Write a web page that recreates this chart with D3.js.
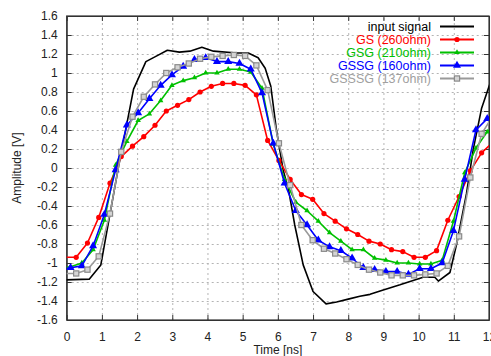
<!DOCTYPE html>
<html>
<head>
<meta charset="utf-8">
<script src="https://cdn.jsdelivr.net/npm/d3@7"></script>
<style>
    body { margin: 0; background: #fff; }
    svg { display: block; font-family: "Liberation Sans", Arial, sans-serif; }
    .grid line { stroke: #b4b4b4; stroke-dasharray: 2, 3; stroke-width: 1; }
    .grid path { display: none; }
    .axis path, .axis line { stroke: #333; }
    .axis text { font-size: 12px; fill: #222; }
</style>
</head>
<body>
<svg id="chart" width="491" height="356"></svg>
<script>
// sample times (ns): red/gray were sampled on one grid, green/blue on another, shifted by half a step
var tA = [-0.05, 0.27, 0.59, 0.91, 1.23, 1.55, 1.87, 2.19, 2.51, 2.83, 3.15, 3.47, 3.79, 4.11, 4.43, 4.75,
    5.07, 5.39, 5.71, 6.03, 6.35, 6.67, 6.99, 7.31, 7.63, 7.95, 8.27, 8.59, 8.91, 9.23, 9.55, 9.87,
    10.19, 10.51, 10.83, 11.15, 11.47, 11.79, 12.11];
var tB = [-0.21, 0.11, 0.43, 0.75, 1.07, 1.39, 1.71, 2.03, 2.35, 2.67, 2.99, 3.31, 3.63, 3.95, 4.27, 4.59,
    4.91, 5.23, 5.55, 5.87, 6.19, 6.51, 6.83, 7.15, 7.47, 7.79, 8.11, 8.43, 8.75, 9.07, 9.39, 9.71,
    10.03, 10.35, 10.67, 10.99, 11.31, 11.63, 11.95, 12.27];

// input signal (no markers)
var inputT = [-0.2, 0.64, 0.97, 1.47, 1.90, 2.25, 2.56, 2.86, 3.20, 3.50, 3.84, 4.17, 4.50, 4.83, 5.16,
    5.44, 5.64, 5.80, 5.96, 6.15, 6.30, 6.48, 6.72, 7.00, 7.37, 7.67, 8.00, 8.33, 8.62, 8.95, 9.20,
    9.47, 9.80, 10.13, 10.46, 10.56, 10.89, 11.08, 11.36, 11.55, 11.79, 12.03, 12.20];
var inputV = [-1.18, -1.17, -1.02, 0.01, 0.83, 1.12, 1.18, 1.24, 1.22, 1.23, 1.27, 1.23, 1.22, 1.21, 1.21,
    1.16, 1.05, 0.86, 0.40, -0.02, -0.22, -0.60, -1.02, -1.30, -1.43, -1.41, -1.38, -1.35, -1.33, -1.29, -1.26,
    -1.23, -1.19, -1.15, -1.15, -1.19, -1.10, -0.80, -0.27, 0.19, 0.63, 0.89, 1.00];

var gs = [-0.94, -0.94, -0.79, -0.52, -0.16, 0.12, 0.23, 0.33, 0.45, 0.60, 0.66, 0.72, 0.80, 0.86, 0.89, 0.89,
    0.87, 0.77, 0.29, 0.08, -0.12, -0.28, -0.33, -0.48, -0.56, -0.64, -0.70, -0.77, -0.80, -0.86, -0.88, -0.94,
    -0.94, -0.87, -0.55, -0.30, -0.03, 0.16, 0.27];
var gsg = [-1.05, -1.04, -1.00, -0.86, -0.55, 0.03, 0.28, 0.50, 0.57, 0.71, 0.87, 0.92, 0.95, 1.00, 1.00, 1.04,
    1.04, 1.01, 0.84, 0.25, -0.12, -0.36, -0.45, -0.56, -0.68, -0.77, -0.86, -0.86, -0.95, -0.97, -1.00, -1.00,
    -1.01, -1.01, -0.97, -0.56, -0.05, 0.21, 0.38, 0.48];
var gssg = [-1.07, -1.05, -1.03, -0.82, -0.49, -0.02, 0.45, 0.58, 0.73, 0.87, 0.98, 1.07, 1.14, 1.16, 1.12, 1.12,
    1.10, 1.04, 0.79, 0.26, -0.16, -0.45, -0.60, -0.76, -0.83, -0.87, -0.95, -1.05, -1.07, -1.09, -1.09, -1.12,
    -1.06, -1.06, -1.00, -0.66, -0.12, 0.40, 0.52, 0.62];
var gsssg = [-1.11, -1.11, -1.07, -0.93, -0.48, 0.17, 0.54, 0.75, 0.88, 1.00, 1.06, 1.10, 1.15, 1.17, 1.18, 1.19,
    1.18, 1.08, 0.82, 0.26, -0.18, -0.60, -0.76, -0.85, -0.90, -0.96, -1.02, -1.07, -1.10, -1.13, -1.13, -1.13,
    -1.12, -1.11, -1.03, -0.72, -0.10, 0.36, 0.55];

var xTicks = [0, 1, 2, 3, 4, 5, 6, 7, 8, 9, 10, 11, 12];
var yTicks = [-1.6, -1.4, -1.2, -1, -0.8, -0.6, -0.4, -0.2, 0, 0.2, 0.4, 0.6, 0.8, 1, 1.2, 1.4, 1.6];

var series = [
    {name: "input signal", t: inputT, v: inputV, color: "#000000", marker: null},
    {name: "GS (260ohm)", t: tA, v: gs, color: "#ff0000", marker: "circle"},
    {name: "GSG (210ohm)", t: tB, v: gsg, color: "#00c000", marker: "smallTriangle"},
    {name: "GSSG (160ohm)", t: tB, v: gssg, color: "#0000ff", marker: "triangle"},
    {name: "GSSSG (137ohm)", t: tA, v: gsssg, color: "#9a9a9a", marker: "square"}
];

var margin = {top: 16, right: 2, bottom: 36, left: 66.7};
var width = 491 - margin.left - margin.right;
var height = 356 - margin.top - margin.bottom;

var svg = d3.select("#chart");
var g = svg.append("g").attr("transform", "translate(" + margin.left + "," + margin.top + ")");

var x = d3.scaleLinear().domain([0, 12]).range([0, width]);
var y = d3.scaleLinear().domain([-1.6, 1.6]).range([height, 0]);

// dashed grid
g.append("g").attr("class", "grid")
    .attr("transform", "translate(0," + height + ")")
    .call(d3.axisBottom(x).tickValues(xTicks.slice(1, -1)).tickSize(-height).tickFormat(""));
g.append("g").attr("class", "grid")
    .call(d3.axisLeft(y).tickValues(yTicks.slice(1, -1)).tickSize(-width).tickFormat(""));

var fmt = function (d) { return String(+d.toFixed(1)); };

// gnuplot style: ticks pointing inwards, mirrored on top/right
g.append("g").attr("class", "axis")
    .attr("transform", "translate(0," + height + ")")
    .call(d3.axisBottom(x).tickValues(xTicks).tickSizeInner(-5).tickSizeOuter(0).tickPadding(12).tickFormat(fmt));
g.append("g").attr("class", "axis")
    .call(d3.axisLeft(y).tickValues(yTicks).tickSizeInner(-5).tickSizeOuter(0).tickPadding(9).tickFormat(fmt));
g.append("g").attr("class", "axis")
    .call(d3.axisTop(x).tickValues(xTicks).tickSizeInner(-5).tickSizeOuter(0).tickFormat(""));
g.append("g").attr("class", "axis")
    .attr("transform", "translate(" + width + ",0)")
    .call(d3.axisRight(y).tickValues(yTicks).tickSizeInner(-5).tickSizeOuter(0).tickFormat(""));

g.append("rect")
    .attr("width", width).attr("height", height)
    .attr("fill", "none").attr("stroke", "#333").attr("stroke-width", 1.2);

svg.append("text")
    .attr("x", margin.left + width / 2).attr("y", 354)
    .attr("text-anchor", "middle").attr("font-size", "12px").attr("fill", "#222")
    .text("Time [ns]");
svg.append("text")
    .attr("transform", "translate(21," + (margin.top + height / 2) + ") rotate(-90)")
    .attr("text-anchor", "middle").attr("font-size", "12px").attr("fill", "#222")
    .text("Amplitude [V]");

g.append("clipPath").attr("id", "plotClip")
    .append("rect").attr("width", width).attr("height", height);

var line = d3.line()
    .x(function (d) { return x(d[0]); })
    .y(function (d) { return y(d[1]); });

function drawMarker(sel, kind, color) {
    if (kind === "circle") {
        sel.append("circle").attr("r", 2.6).attr("fill", color);
    } else if (kind === "smallTriangle") {
        sel.append("path").attr("d", d3.symbol(d3.symbolTriangle, 13)()).attr("fill", color);
    } else if (kind === "triangle") {
        sel.append("path").attr("d", d3.symbol(d3.symbolTriangle, 28)()).attr("fill", color);
    } else if (kind === "square") {
        sel.append("rect").attr("x", -2.6).attr("y", -2.6).attr("width", 5.2).attr("height", 5.2)
            .attr("fill", "#d4d4d4").attr("stroke", "#8a8a8a").attr("stroke-width", 1.2);
    }
}

var plot = g.append("g").attr("clip-path", "url(#plotClip)");

series.forEach(function (s) {
    var pts = s.t.map(function (t, i) { return [t, s.v[i]]; });
    plot.append("path")
        .datum(pts)
        .attr("fill", "none")
        .attr("stroke", s.color)
        .attr("stroke-width", 1.6)
        .attr("stroke-linejoin", "round")
        .attr("d", line);
    if (s.marker) {
        plot.selectAll(null)
            .data(pts.filter(function (p) { return p[0] >= 0 && p[0] <= 12; }))
            .enter().append("g")
            .attr("transform", function (d) { return "translate(" + x(d[0]) + "," + y(d[1]) + ")"; })
            .each(function () { drawMarker(d3.select(this), s.marker, s.color); });
    }
});

// legend
var legend = svg.append("g").attr("transform", "translate(431,26.5)");
series.forEach(function (s, i) {
    var row = legend.append("g").attr("transform", "translate(0," + (i * 13) + ")");
    row.append("text")
        .attr("x", 0).attr("dy", "0.35em")
        .attr("text-anchor", "end").attr("font-size", "12.5px")
        .attr("fill", s.marker === "square" ? "#a0a0a0" : s.color)
        .text(s.name);
    row.append("line")
        .attr("x1", 9).attr("x2", 43)
        .attr("stroke", s.color).attr("stroke-width", 2);
    if (s.marker) {
        var m = row.append("g").attr("transform", "translate(26,0)");
        drawMarker(m, s.marker, s.color);
    }
});
</script>
</body>
</html>
